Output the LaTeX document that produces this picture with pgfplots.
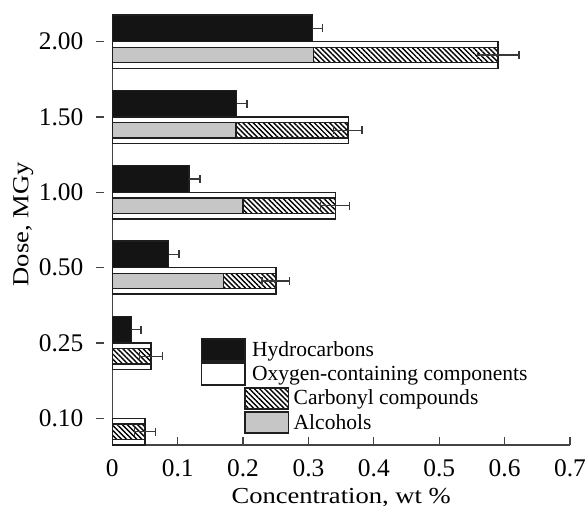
\documentclass[border=0pt]{standalone}
\usepackage{fontspec}
\setmainfont{Liberation Serif}
\newfontfamily\labelfont[FakeStretch=1.16]{Liberation Serif}
\usepackage{pgfplots}
\pgfplotsset{compat=1.18}
\usetikzlibrary{patterns.meta}
\definecolor{barblack}{HTML}{141414}
\definecolor{bargray}{HTML}{C6C6C6}
\definecolor{edge}{HTML}{1E1E1E}
\definecolor{axisgray}{HTML}{444444}
\definecolor{errgray}{HTML}{383838}
\begin{document}
\begin{tikzpicture}
\path[use as bounding box] (-56.15bp,-30.5bp) rectangle (237.85bp,222.5bp);
\begin{axis}[
  at={(0,0)}, anchor=south west,
  scale only axis, width=228.85bp, height=214.65bp,
  xmin=0, xmax=0.7, ymin=-0.3545, ymax=5.345,
  clip=false,
  axis x line=bottom, axis y line=left,
  axis line style={-, axisgray, line width=0.6bp},
  xtick={0,0.1,0.2,0.3,0.4,0.5,0.6,0.7},
  xticklabels={0,0.1,0.2,0.3,0.4,0.5,0.6,0.7},
  ytick={0,1,2,3,4,5},
  yticklabels={0.10,0.25,0.50,1.00,1.50,2.00},
  minor tick num=0,
  tick align=inside,
  major tick length=4bp,
  tick style={axisgray, line width=0.6bp},
  ytick style={xshift=-4bp},
  /pgf/number format/assume math mode=true,
  ticklabel style={font=\fontsize{12.75}{15}\selectfont},
  xticklabel style={anchor=base, yshift=-15.5bp},
  yticklabel style={anchor=east, inner sep=0pt, xshift=-10.3bp},
  xlabel={Concentration, wt \%},
  ylabel={Dose, MGy},
  xlabel style={at={(axis description cs:0.5,-0.1374)}, anchor=base, font=\labelfont\fontsize{11.5}{13}\selectfont},
  ylabel style={at={(axis description cs:-0.1835,0.514)}, anchor=base, font=\labelfont\fontsize{11.5}{13}\selectfont},
  xbar, bar shift=0pt,
]
% Oxygen-containing components (white)
\addplot[xbar, bar width=0.353, bar shift=0, fill=white, draw=edge, line width=0.75bp]
  coordinates {(0.590,4.8234) (0.361,3.8234) (0.341,2.8234) (0.250,1.8234) (0.059,0.8234) (0.050,-0.1766)};
% Carbonyl compounds (hatched, cumulative with alcohols)
\addplot[xbar, bar width=0.2045, bar shift=0, draw=edge, line width=0.75bp,
  pattern={Lines[angle=-45,distance=1.8bp,line width=0.7bp]}, pattern color=black,
  error bars/.cd, x dir=both, x explicit,
  error bar style={line width=0.6bp, errgray},
  error mark options={rotate=90, line width=0.6bp, errgray, mark size=2bp}]
  coordinates {(0.590,4.8234) +- (0.032,0) (0.360,3.8234) +- (0.022,0) (0.341,2.8234) +- (0.022,0)
               (0.250,1.8234) +- (0.021,0) (0.059,0.8234) +- (0.0175,0) (0.050,-0.1766) +- (0.016,0)};
% Alcohols (gray)
\addplot[xbar, bar width=0.2045, bar shift=0, fill=bargray, draw=edge, line width=0.75bp]
  coordinates {(0.308,4.8234) (0.189,3.8234) (0.200,2.8234) (0.170,1.8234)};
% Hydrocarbons (black)
\addplot[xbar, bar width=0.353, bar shift=0, fill=barblack, draw=edge, line width=0.75bp,
  error bars/.cd, x dir=plus, x explicit,
  error bar style={line width=0.6bp, errgray},
  error mark options={rotate=90, line width=0.6bp, errgray, mark size=2bp}]
  coordinates {(0.306,5.1766) +- (0.016,0) (0.190,4.1766) +- (0.016,0) (0.117,3.1766) +- (0.017,0)
               (0.086,2.1766) +- (0.016,0) (0.029,1.1766) +- (0.015,0)};
% Legend
\draw[line width=0.75bp, draw=edge, fill=barblack] (axis cs:0.1367,0.761) rectangle (axis cs:0.2029,1.053);
\node[anchor=base west, inner sep=0pt, font=\fontsize{10.8}{12}\selectfont] at (axis cs:0.2131,0.818) {Hydrocarbons};
\draw[line width=0.75bp, draw=edge, fill=white] (axis cs:0.1367,0.442) rectangle (axis cs:0.2029,0.734);
\node[anchor=base west, inner sep=0pt, font=\fontsize{10.8}{12}\selectfont] at (axis cs:0.2131,0.508) {Oxygen-containing components};
\draw[line width=0.75bp, draw=edge, pattern={Lines[angle=-45,distance=1.8bp,line width=0.7bp]}, pattern color=black] (axis cs:0.2029,0.1235) rectangle (axis cs:0.2697,0.402);
\node[anchor=base west, inner sep=0pt, font=\fontsize{10.8}{12}\selectfont] at (axis cs:0.2768,0.177) {Carbonyl compounds};
\draw[line width=0.75bp, draw=edge, fill=bargray] (axis cs:0.2029,-0.195) rectangle (axis cs:0.2697,0.0837);
\node[anchor=base west, inner sep=0pt, font=\fontsize{10.8}{12}\selectfont] at (axis cs:0.2768,-0.146) {Alcohols};
\end{axis}
\end{tikzpicture}
\end{document}
